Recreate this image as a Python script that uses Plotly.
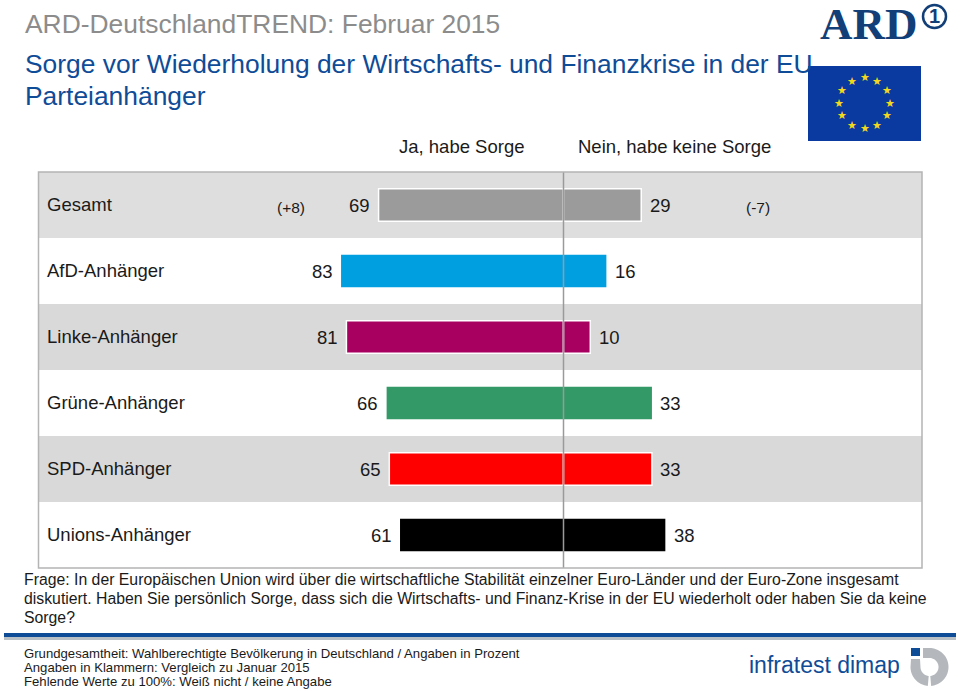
import math
import plotly.graph_objects as go

categories = ["Gesamt", "AfD-Anhänger", "Linke-Anhänger", "Grüne-Anhänger", "SPD-Anhänger", "Unions-Anhänger"]
ja_values = [69, 83, 81, 66, 65, 61]
nein_values = [29, 16, 10, 33, 33, 38]
bar_colors = ["#9b9b9b", "#009fe0", "#a80060", "#339966", "#ff0000", "#000000"]
band_colors = ["#dedede", "#ffffff", "#d9d9d9", "#ffffff", "#d9d9d9", "#ffffff"]
bar_edges = [1.5, 0, 1.5, 0, 1.5, 0]
title_top = "ARD-DeutschlandTREND: Februar 2015"
title_main = ["Sorge vor Wiederholung der Wirtschafts- und Finanzkrise in der EU", "Parteianhänger"]
header_ja = "Ja, habe Sorge"
header_nein = "Nein, habe keine Sorge"
delta_ja = "(+8)"
delta_nein = "(-7)"
question = [
    "Frage: In der Europäischen Union wird über die wirtschaftliche Stabilität einzelner Euro-Länder und der Euro-Zone insgesamt",
    "diskutiert. Haben Sie persönlich Sorge, dass sich die Wirtschafts- und Finanz-Krise in der EU wiederholt oder haben Sie da keine",
    "Sorge?",
]
footer = [
    "Grundgesamtheit: Wahlberechtigte Bevölkerung in Deutschland / Angaben in Prozent",
    "Angaben in Klammern: Vergleich zu Januar 2015",
    "Fehlende Werte zu 100%: Weiß nicht / keine Angabe",
]

W, H = 960, 691
FONT = "Liberation Sans, Arial, sans-serif"
L, R, T, B = 38.5, 922, 172, 568
UNIT = 2.68
ZERO = 563.5


def px(x):
    return x / W


def py(y):
    return 1 - y / H


def label(x, y, text, size, color="#1a1a1a", anchor="left", family=FONT):
    return dict(xref="paper", yref="paper", x=px(x), y=py(y), text=text, showarrow=False,
                xanchor=anchor, yanchor="middle", align=anchor, borderpad=0, borderwidth=0,
                font=dict(family=family, size=size, color=color))


def rect(x0, y0, x1, y1, fill, layer="below", line=None):
    return dict(type="rect", xref="paper", yref="paper", x0=px(x0), x1=px(x1), y0=py(y0), y1=py(y1),
                fillcolor=fill, layer=layer, line=line or dict(width=0))


def path(points, fill):
    d = "M " + " L ".join(f"{px(a):.5f},{py(b):.5f}" for a, b in points) + " Z"
    return dict(type="path", xref="paper", yref="paper", path=d, fillcolor=fill, layer="above", line=dict(width=0))


def arc(cx, cy, r, a0, a1, n=40):
    return [(cx + r * math.cos(math.radians(a0 + (a1 - a0) * i / n)),
             cy + r * math.sin(math.radians(a0 + (a1 - a0) * i / n))) for i in range(n + 1)]


fig = go.Figure()
fig.add_bar(y=categories, x=[-v for v in ja_values], orientation="h", name=header_ja, width=0.49,
            marker=dict(color=bar_colors, line=dict(color="#ffffff", width=bar_edges)), hoverinfo="skip")
fig.add_bar(y=categories, x=nein_values, orientation="h", name=header_nein, width=0.49,
            marker=dict(color=bar_colors, line=dict(color="#ffffff", width=bar_edges)), hoverinfo="skip")

shapes = []
for i, c in enumerate(band_colors):
    shapes.append(dict(type="rect", xref="paper", yref="y", x0=px(L), x1=px(R), y0=i - 0.5, y1=i + 0.5,
                       fillcolor=c, layer="below", line=dict(width=0)))
shapes.append(dict(type="line", xref="x", yref="paper", x0=0, x1=0, y0=py(T), y1=py(B),
                   layer="above", line=dict(color="#9a9a9a", width=1.5)))
shapes.append(rect(L, T, R, B, "rgba(0,0,0,0)", "above", dict(color="#b4b4b4", width=1.5)))
# footer rule
shapes.append(rect(4, 633, 956, 637, "#0f4c97"))
shapes.append(rect(4, 637, 956, 640, "#b9c0c6"))
# EU flag
shapes.append(rect(808, 66, 921, 141, "#0a3aa0"))
# ARD ring
shapes.append(dict(type="circle", xref="paper", yref="paper", x0=px(923), x1=px(946), y0=py(5), y1=py(28),
                   line=dict(color="#123f78", width=2.5), fillcolor="rgba(0,0,0,0)", layer="above"))
# infratest dimap mark
shapes.append(rect(911, 648, 920, 656, "#0f4c97", "above"))
cx, cy = 929.5, 667
shapes.append(path([(923, 648)] + arc(cx, cy, 19, -85, 85) + arc(cx, cy, 9, 85, -85) + [(923, 658)], "#b4b8bc"))
shapes.append(path([(911, 659), (920, 659)] + arc(cx, cy, 9, 180, 95) + arc(cx, cy, 19, 95, 180), "#b4b8bc"))

ann = []
ann.append(label(25, 24, title_top, 26.4, "#8c8c8c"))
ann.append(label(25, 64, title_main[0], 26.4, "#0f4c97"))
ann.append(label(25, 96, title_main[1], 26.4, "#0f4c97"))
ann.append(label(461.5, 147, header_ja, 18.5, "#1a1a1a", "center"))
ann.append(label(674.5, 147, header_nein, 18.5, "#1a1a1a", "center"))
ann.append(label(305, 207, delta_ja, 15.5, "#1a1a1a", "right"))
ann.append(label(746, 207, delta_nein, 15.5, "#1a1a1a", "left"))
for i, name in enumerate(categories):
    ann.append(dict(xref="paper", yref="y", x=px(47), y=name, text=name, showarrow=False, xanchor="left",
                    yanchor="middle", borderpad=0, borderwidth=0, yshift=1 if i else 0,
                    font=dict(family=FONT, size=18.5, color="#1a1a1a")))
    ann.append(dict(xref="x", yref="y", x=-ja_values[i], y=name, text=str(ja_values[i]), showarrow=False,
                    xanchor="right", yanchor="middle", xshift=-8.5, yshift=0 if i else -1, borderpad=0, borderwidth=0,
                    font=dict(family=FONT, size=18.5, color="#1a1a1a")))
    ann.append(dict(xref="x", yref="y", x=nein_values[i], y=name, text=str(nein_values[i]), showarrow=False,
                    xanchor="left", yanchor="middle", xshift=8.5, yshift=0 if i else -1, borderpad=0, borderwidth=0,
                    font=dict(family=FONT, size=18.5, color="#1a1a1a")))
for y, t in zip([579, 598, 617], question):
    ann.append(label(24, y, t, 15.8, "#1a1a1a"))
for y, t in zip([653, 667, 681], footer):
    ann.append(label(24, y, t, 13.15, "#1a1a1a"))
# logos as text
ann.append(label(820, 24, "<b>ARD</b>", 45, "#123f78", "left", "Liberation Serif, serif"))
ann.append(label(934.5, 16, "<b>1</b>", 20, "#123f78", "center", "Liberation Sans, sans-serif"))
ann.append(label(749, 665, "infratest dimap", 23, "#0f4c97", "left", "Liberation Sans, sans-serif"))
for k in range(12):
    a = math.radians(30 * k)
    ann.append(label(864.5 + 25.5 * math.cos(a), 103.2 + 25.5 * math.sin(a), "★", 11, "#f2d81d", "center", "DejaVu Sans"))

fig.update_layout(
    width=W, height=H, autosize=False, barmode="relative", bargap=0.5, showlegend=False,
    margin=dict(l=0, r=0, t=0, b=0), paper_bgcolor="#ffffff", plot_bgcolor="rgba(0,0,0,0)",
    xaxis=dict(domain=[px(L), px(R)], range=[(L - ZERO) / UNIT, (R - ZERO) / UNIT], visible=False, fixedrange=True),
    yaxis=dict(domain=[py(B), py(T)], type="category", categoryorder="array", categoryarray=categories,
               range=[5.5, -0.5], visible=False, fixedrange=True),
    shapes=shapes, annotations=ann,
)
fig.write_html("out.html", post_script="document.body.style.margin='0';document.documentElement.style.overflow='hidden';",
               config=dict(displayModeBar=False))
